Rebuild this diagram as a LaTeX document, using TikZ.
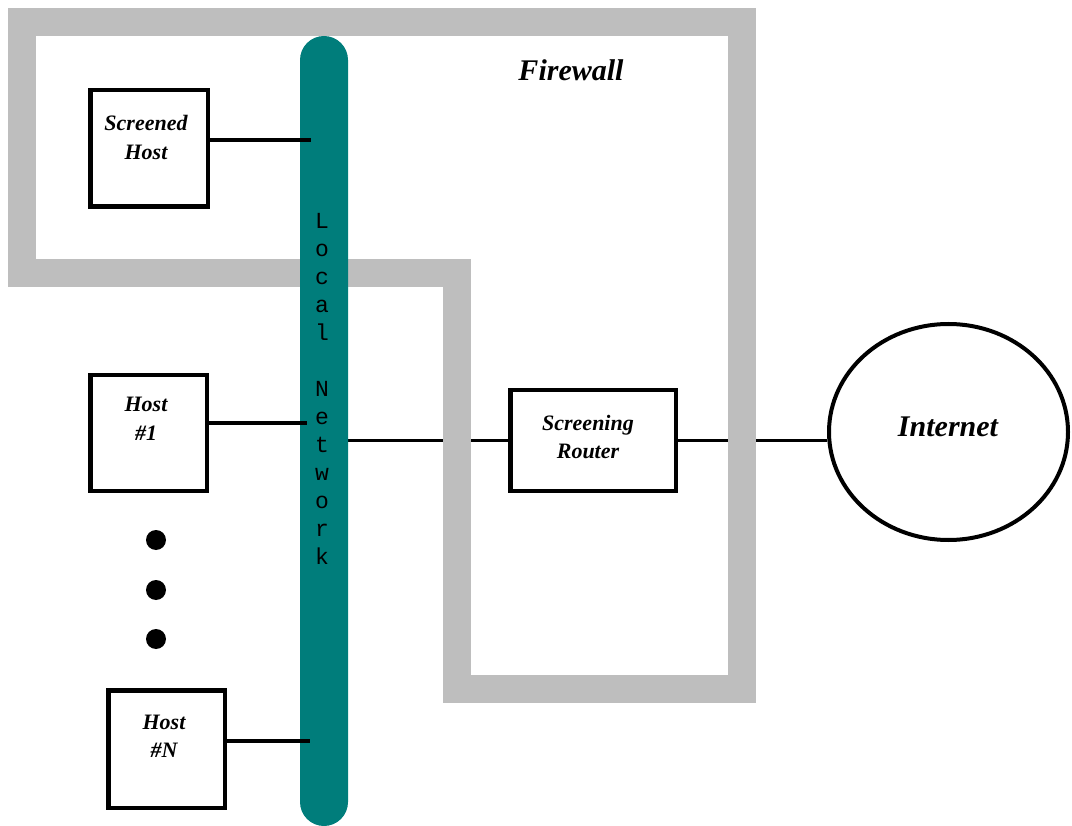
\documentclass[tikz,border=0pt]{standalone}
\usepackage{fontspec}
\setmainfont{Liberation Serif}
\setmonofont{Liberation Mono}
\usetikzlibrary{shapes.geometric}
\definecolor{fwgray}{RGB}{190,190,190}
\definecolor{lanteal}{RGB}{0,125,123}
\pgfdeclarelayer{wirelayer}
\pgfdeclarelayer{fwlayer}
\pgfsetlayers{wirelayer,fwlayer,main}
\begin{document}
\begin{tikzpicture}[x=1pt,y=-1pt,
  fwband/.style={draw=fwgray,line width=28pt,line join=miter},
  hostbox/.style={draw=black,line width=4.5pt,fill=white,inner sep=0pt},
  boxtext/.style={font=\fontsize{22}{28.5}\selectfont\bfseries\itshape,align=center,inner sep=0pt},
  wire/.style={draw=black,line width=3.5pt},
  dotmark/.style={circle,fill=black,minimum size=20pt,inner sep=0pt},
  lanletter/.style={font=\fontsize{23}{23}\selectfont\ttfamily,anchor=base,inner sep=0pt}
]
\useasboundingbox (0,0) rectangle (1072,826);

% local network bar
\node[rectangle,rounded corners=24pt,fill=lanteal,minimum width=48pt,minimum height=790pt,inner sep=0pt] (lan) at (324,431) {};
\foreach \ch [count=\i] in {L,o,c,a,l,{},N,e,t,w,o,r,k}
  \node[lanletter] (ln\i) at (322,{228.5+28*(\i-1)}) {\ch};

% router and internet
\node[hostbox,minimum width=165.5pt,minimum height=100.5pt] (router) at (593,440.5) {};
\node[boxtext] (routertext) at (588,437) {Screening\\Router};
\node[ellipse,draw=black,line width=4pt,minimum width=239pt,minimum height=216pt,inner sep=0pt] (inet) at (948.5,432) {};
\node[boxtext,font=\fontsize{30}{36}\selectfont\bfseries\itshape] (inettext) at (948,427) {Internet};
\node[boxtext,font=\fontsize{30}{34}\selectfont\bfseries\itshape] (fwtext) at (571,70) {Firewall};

% wires that pass under the firewall band
\begin{pgfonlayer}{wirelayer}
\draw[wire] (lan.east |- router.west) -- (router.west);
\draw[wire] (router.east) -- (router.east -| inet.west);
\end{pgfonlayer}

% firewall band
\begin{pgfonlayer}{fwlayer}
\draw[fwband] (22,22) -- (742,22) -- (742,689) -- (457,689) -- (457,273) -- (22,273) -- cycle;
\end{pgfonlayer}

% hosts
\node[hostbox,minimum width=117.5pt,minimum height=116.5pt] (sh) at (149,148.5) {};
\node[boxtext] (shtext) at (146,137.5) {Screened\\Host};
\node[hostbox,minimum width=116.5pt,minimum height=115.5pt] (h1) at (148.5,433) {};
\node[boxtext] (h1text) at (146,419) {Host\\\#1};
\node[hostbox,minimum width=116.5pt,minimum height=117.5pt] (hn) at (166.5,749) {};
\node[boxtext] (hntext) at (164,736.5) {Host\\\#N};

\coordinate (tapsh) at (311,140);
\coordinate (tap1) at (307,423);
\coordinate (tapn) at (310,741);
\draw[wire] (sh.east |- tapsh) -- (tapsh);
\draw[wire] (h1.east |- tap1) -- (tap1);
\draw[wire] (hn.east |- tapn) -- (tapn);

% ellipsis dots
\node[dotmark] (d1) at (156,540) {};
\node[dotmark] (d2) at (156,590) {};
\node[dotmark] (d3) at (156,639) {};
\end{tikzpicture}
\end{document}
